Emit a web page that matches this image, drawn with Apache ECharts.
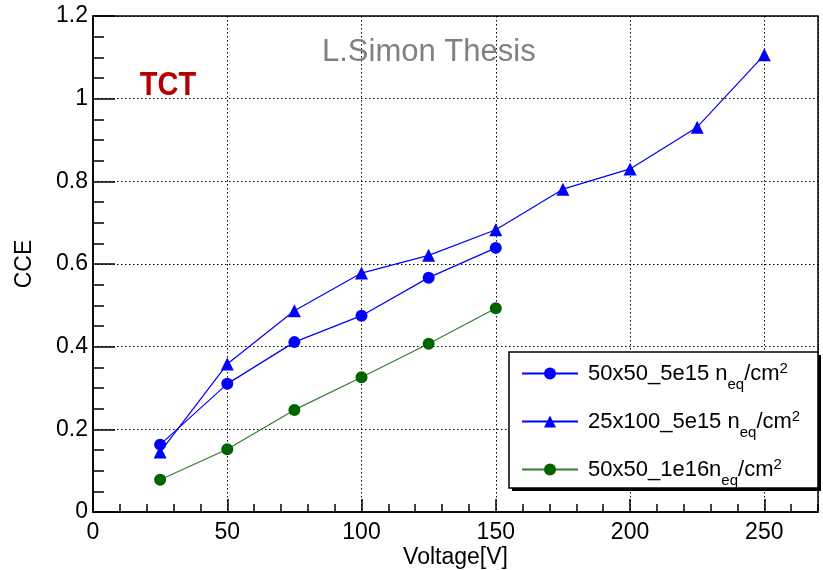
<!DOCTYPE html>
<html>
<head>
<meta charset="utf-8">
<script src="https://cdn.jsdelivr.net/npm/echarts@6/dist/echarts.min.js"></script>
<style>
  html, body { margin: 0; padding: 0; background: #fff; }
  #chart { width: 823px; height: 570px; }
</style>
</head>
<body>
<div id="chart"></div>
<script>
// Charge collection efficiency vs. bias voltage
const voltageShort = [25, 50, 75, 100, 125, 150];
const voltageLong = [25, 50, 75, 100, 125, 150, 175, 200, 225, 250];
const cce50x50_5e15 = [0.163, 0.310, 0.411, 0.475, 0.567, 0.639];
const cce25x100_5e15 = [0.145, 0.358, 0.487, 0.578, 0.621, 0.683, 0.781, 0.830, 0.931, 1.106];
const cce50x50_1e16 = [0.078, 0.152, 0.247, 0.326, 0.407, 0.493];

const seriesNames = ['50x50_5e15', '25x100_5e15', '50x50_1e16'];
// legend text: name, optional space, n_eq/cm^2
const legendText = {
  '50x50_5e15': '{m|50x50_5e15 n}{sub|eq}{m|/cm}{sup|2}',
  '25x100_5e15': '{m|25x100_5e15 n}{sub|eq}{m|/cm}{sup|2}',
  '50x50_1e16': '{m|50x50_1e16n}{sub|eq}{m|/cm}{sup|2}'
};

const FONT = "'Liberation Sans', Arial, Helvetica, sans-serif";
const BLUE = '#0000ff';
const GREEN_LINE = '#2f7f2f';
const GREEN_MARK = '#006400';

function pairs(xs, ys) { return xs.map((x, i) => [x, ys[i]]); }

const chart = echarts.init(document.getElementById('chart'), null, { renderer: 'canvas' });

const axisText = { color: '#000', fontFamily: FONT, fontSize: 23 };

chart.setOption({
  animation: false,
  backgroundColor: '#fff',
  grid: {
    left: 93, right: 5, top: 16, bottom: 58,
    outerBoundsMode: 'none', containLabel: false,
    show: true, borderColor: '#000', borderWidth: 1.5, backgroundColor: 'transparent'
  },
  xAxis: [
    {
      type: 'value', position: 'bottom', min: 0, max: 270, interval: 50,
      name: 'Voltage[V]', nameLocation: 'middle', nameGap: 34, nameMoveOverlap: false,
      nameTextStyle: axisText,
      axisLine: { show: true, lineStyle: { color: '#000', width: 1.5 } },
      axisTick: { show: true, inside: true, length: 13, lineStyle: { color: '#000', width: 1.5 } },
      axisLabel: Object.assign({ margin: 9, showMaxLabel: false }, axisText),
      splitLine: { show: true, lineStyle: { color: '#000', type: [1.5, 2.5], width: 1 } }
    },
    {
      type: 'value', position: 'bottom', min: 0, max: 270, interval: 10,
      axisLine: { show: false },
      axisTick: { show: true, inside: true, length: 8, lineStyle: { color: '#000', width: 1.5 } },
      axisLabel: { show: false },
      splitLine: { show: false }
    }
  ],
  yAxis: {
    type: 'value', min: 0, max: 1.2, interval: 0.2,
    name: 'CCE', nameLocation: 'middle', nameGap: 57, nameMoveOverlap: false,
    nameTextStyle: axisText,
    axisLine: { show: true, lineStyle: { color: '#000', width: 1.5 } },
    axisTick: { show: true, inside: true, length: 22, lineStyle: { color: '#000', width: 1.5 } },
    minorTick: { show: true, splitNumber: 4, length: 11, lineStyle: { color: '#000', width: 1.5 } },
    axisLabel: Object.assign({ margin: 5 }, axisText),
    splitLine: { show: true, lineStyle: { color: '#000', type: [1.5, 2.5], width: 1 } }
  },
  legend: {
    orient: 'vertical', left: 521, top: 361, padding: 0,
    itemWidth: 56, itemHeight: 15, itemGap: 17,
    z: 6,
    data: seriesNames,
    formatter: name => legendText[name],
    textStyle: {
      color: '#000', fontFamily: FONT, padding: [0, 0, 0, 5],
      rich: {
        m: { fontSize: 22, fontFamily: FONT, color: '#000' },
        sub: { fontSize: 15, fontFamily: FONT, color: '#000', padding: [22, 0, 0, 0] },
        sup: { fontSize: 15, fontFamily: FONT, color: '#000', padding: [0, 0, 10, 0] }
      }
    }
  },
  graphic: [
    { type: 'rect', z: 3, z2: 0, shape: { x: 512, y: 355, width: 309, height: 136 },
      style: { fill: '#000' } },
    { type: 'rect', z: 3, z2: 1, shape: { x: 509, y: 352, width: 309, height: 136 },
      style: { fill: '#fff', stroke: '#000', lineWidth: 1.5 } },
    { type: 'text', z: 3, left: 322, top: 37,
      style: { text: 'L.Simon Thesis', fill: '#808080', font: "31px " + FONT } },
    { type: 'text', z: 3, x: 168, y: 86,
      scaleX: 0.88,
      style: { text: 'TCT', fill: '#b40000', font: "bold 33px " + FONT, align: 'center', verticalAlign: 'middle' } }
  ],
  series: [
    {
      name: seriesNames[0], type: 'line', xAxisIndex: 0,
      data: pairs(voltageShort, cce50x50_5e15),
      symbol: 'circle', symbolSize: 12,
      lineStyle: { color: BLUE, width: 1.2 },
      itemStyle: { color: BLUE },
      z: 3
    },
    {
      name: seriesNames[1], type: 'line', xAxisIndex: 0,
      data: pairs(voltageLong, cce25x100_5e15),
      symbol: 'triangle', symbolSize: 13,
      lineStyle: { color: BLUE, width: 1.2 },
      itemStyle: { color: BLUE },
      z: 2
    },
    {
      name: seriesNames[2], type: 'line', xAxisIndex: 0,
      data: pairs(voltageShort, cce50x50_1e16),
      symbol: 'circle', symbolSize: 12,
      lineStyle: { color: GREEN_LINE, width: 1.2 },
      itemStyle: { color: GREEN_MARK },
      z: 2
    }
  ]
});
</script>
</body>
</html>
